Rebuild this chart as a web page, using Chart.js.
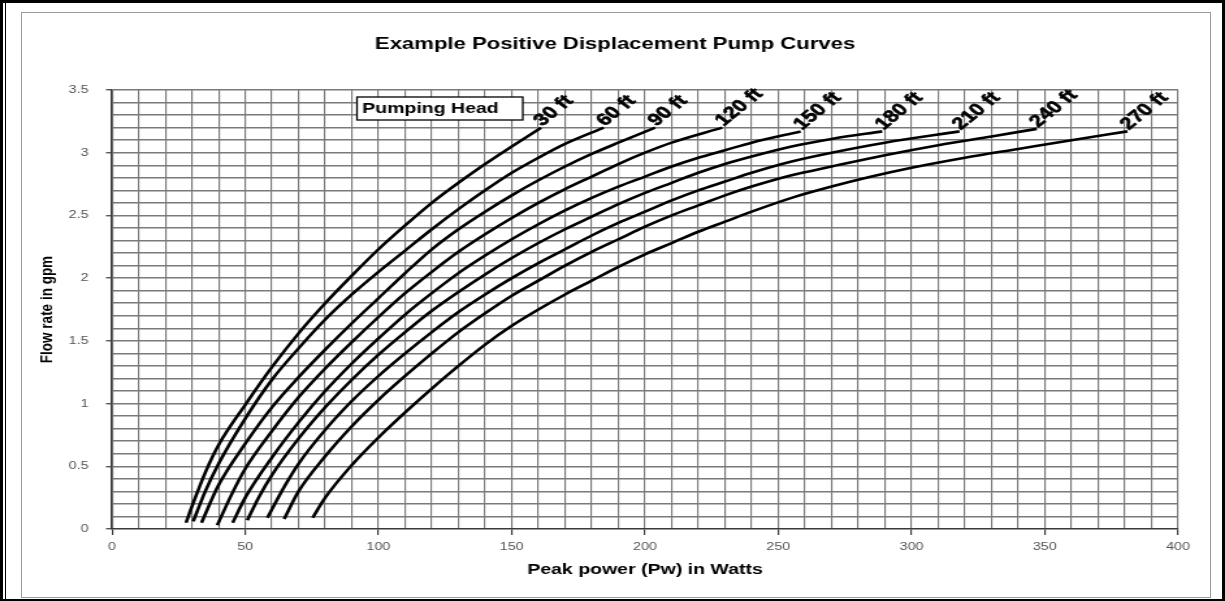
<!DOCTYPE html>
<html>
<head>
<meta charset="utf-8">
<script src="https://cdn.jsdelivr.net/npm/chart.js@4.4.1/dist/chart.umd.min.js"></script>
<style>
  html, body { margin: 0; padding: 0; background: #fff; }
  #page { position: relative; width: 1225px; height: 601px; overflow: hidden; background: #fff; }
  #outer { position: absolute; left: 0; top: 0; width: 1225px; height: 601px; box-sizing: border-box;
           border-top: 3px solid #000; border-left: 3px solid #000; border-right: 3px solid #000; border-bottom: 2px solid #000; }
  #leftline { position: absolute; left: 5px; top: 0; width: 1px; height: 601px; background: #000; }
  #inner { position: absolute; left: 21px; top: 12px; width: 1190px; height: 586px; box-sizing: border-box; border: 1.5px solid #9a9a9a; }
  #wrap { position: absolute; left: 0; top: 0; width: 942px; height: 601px; transform: scaleX(1.30042); transform-origin: 0 0; }
</style>
</head>
<body>
<div id="page">
  <div id="outer"></div>
  <div id="leftline"></div>
  <div id="inner"></div>
  <div id="wrap"><canvas id="c"></canvas></div>
</div>
<script>
// ---------- data ----------
const TITLE = 'Example Positive Displacement Pump Curves';
const X_TITLE = 'Peak power (Pw) in Watts';
const Y_TITLE = 'Flow rate in gpm';
const LEGEND_TITLE = 'Pumping Head';
const HEADS = ['30 ft', '60 ft', '90 ft', '120 ft', '150 ft', '180 ft', '210 ft', '240 ft', '270 ft'];

const P30 = [27.8, 30, 35, 40, 50, 60, 70, 80, 90, 100, 110, 120, 130, 140, 150, 161];
const F30 = [0.05, 0.18, 0.45, 0.67, 0.99, 1.29, 1.56, 1.8, 2.02, 2.23, 2.42, 2.6, 2.76, 2.91, 3.05, 3.2];

const P60 = [30.5, 35, 40, 50, 60, 70, 80, 90, 100, 110, 120, 130, 140, 150, 160, 170, 184.5];
const F60 = [0.06, 0.3, 0.52, 0.88, 1.19, 1.44, 1.67, 1.87, 2.05, 2.22, 2.39, 2.55, 2.7, 2.84, 2.96, 3.07, 3.2];

const P90 = [33.6, 40, 50, 60, 70, 80, 90, 100, 110, 120, 130, 140, 150, 160, 170, 180, 190, 203.8];
const F90 = [0.05, 0.35, 0.68, 0.97, 1.21, 1.43, 1.64, 1.84, 2.04, 2.23, 2.39, 2.53, 2.66, 2.78, 2.89, 2.99, 3.08, 3.2];

const P120 = [39.5, 45, 50, 60, 70, 80, 90, 100, 110, 120, 130, 140, 150, 160, 170, 180, 190, 200, 210, 229];
const F120 = [0.03, 0.28, 0.48, 0.78, 1.05, 1.28, 1.49, 1.69, 1.88, 2.05, 2.21, 2.35, 2.48, 2.6, 2.71, 2.81, 2.91, 3.0, 3.08, 3.2];

const P150 = [45.3, 50, 60, 70, 80, 90, 100, 110, 120, 130, 140, 150, 160, 170, 180, 190, 200, 210, 220, 230, 240, 258.4];
const F150 = [0.05, 0.25, 0.57, 0.85, 1.1, 1.32, 1.52, 1.71, 1.88, 2.04, 2.18, 2.31, 2.43, 2.54, 2.64, 2.73, 2.81, 2.89, 2.96, 3.02, 3.08, 3.17];

const P180 = [50.8, 55, 60, 70, 80, 90, 100, 110, 120, 130, 140, 150, 160, 170, 180, 190, 200, 210, 220, 230, 240, 255, 270, 289];
const F180 = [0.07, 0.25, 0.43, 0.72, 0.97, 1.19, 1.39, 1.57, 1.74, 1.89, 2.03, 2.16, 2.28, 2.39, 2.49, 2.59, 2.68, 2.76, 2.84, 2.91, 2.97, 3.05, 3.11, 3.17];

const P210 = [58.3, 65, 70, 80, 90, 100, 110, 120, 130, 140, 150, 160, 170, 180, 190, 200, 210, 220, 230, 240, 255, 270, 290, 318];
const F210 = [0.09, 0.35, 0.52, 0.79, 1.02, 1.22, 1.4, 1.57, 1.73, 1.87, 2.0, 2.12, 2.23, 2.34, 2.44, 2.53, 2.62, 2.7, 2.77, 2.84, 2.93, 3.0, 3.08, 3.17];

const P240 = [64.6, 70, 80, 90, 100, 110, 120, 130, 140, 150, 160, 170, 180, 190, 200, 210, 220, 230, 240, 255, 270, 290, 310, 330, 347];
const F240 = [0.08, 0.3, 0.58, 0.82, 1.03, 1.22, 1.4, 1.57, 1.72, 1.86, 1.98, 2.1, 2.21, 2.31, 2.41, 2.5, 2.58, 2.66, 2.73, 2.82, 2.89, 2.98, 3.06, 3.13, 3.19];

const P270 = [75.3, 80, 90, 100, 110, 120, 130, 140, 150, 160, 170, 180, 190, 200, 210, 220, 230, 240, 255, 270, 285, 300, 320, 340, 360, 381];
const F270 = [0.09, 0.25, 0.51, 0.73, 0.93, 1.12, 1.3, 1.47, 1.62, 1.75, 1.87, 1.98, 2.09, 2.19, 2.28, 2.37, 2.45, 2.53, 2.64, 2.73, 2.81, 2.88, 2.96, 3.03, 3.1, 3.17];

const X_MIN = 0, X_MAX = 400, X_STEP = 10, X_LABEL_STEP = 50;
const Y_MIN = 0, Y_MAX = 3.5, Y_STEP = 0.1, Y_LABEL_STEP = 0.5;

// ---------- build ----------
const SERIES = [[P30, F30], [P60, F60], [P90, F90], [P120, F120], [P150, F150],
                [P180, F180], [P210, F210], [P240, F240], [P270, F270]];

const datasets = SERIES.map(([p, f], i) => ({
  label: HEADS[i],
  data: p.map((x, k) => ({ x: x, y: f[k] })),
  showLine: true,
  borderColor: '#000',
  backgroundColor: '#000',
  borderWidth: 2.6,
  pointRadius: 0,
  cubicInterpolationMode: 'monotone',
  fill: false
}));

const FONT = '"Liberation Sans", Arial, sans-serif';
const isMult = (v, step) => Math.abs(v / step - Math.round(v / step)) < 1e-6;

const decorPlugin = {
  id: 'decor',
  afterDatasetsDraw(chart) {
    const ctx = chart.ctx;
    ctx.save();
    ctx.fillStyle = '#000';
    ctx.strokeStyle = '#000';
    ctx.lineWidth = 0.6;
    ctx.font = 'bold 17px ' + FONT;
    ctx.textAlign = 'left';
    ctx.textBaseline = 'alphabetic';
    chart.data.datasets.forEach((ds, i) => {
      const meta = chart.getDatasetMeta(i);
      const pt = meta.data[meta.data.length - 1];
      ctx.save();
      ctx.translate(pt.x + 1, pt.y - 1);
      ctx.rotate(-46 * Math.PI / 180);
      ctx.fillText(ds.label, 0, 0);
      ctx.strokeText(ds.label, 0, 0);
      ctx.restore();
    });
    ctx.restore();
  },
  afterDraw(chart) {
    const ctx = chart.ctx;
    ctx.save();
    ctx.fillStyle = '#000';
    ctx.font = 'bold 17px ' + FONT;
    ctx.textAlign = 'center';
    ctx.textBaseline = 'middle';
    ctx.fillText(TITLE, 473, 44);
    const bx = 274.5, by = 97, bw = 127.5, bh = 23;
    ctx.fillStyle = '#fff';
    ctx.fillRect(bx, by, bw, bh);
    ctx.strokeStyle = '#000';
    ctx.lineWidth = 1.3;
    ctx.strokeRect(bx, by, bw, bh);
    ctx.fillStyle = '#000';
    ctx.font = 'bold 15px ' + FONT;
    ctx.textAlign = 'left';
    ctx.textBaseline = 'middle';
    ctx.fillText(LEGEND_TITLE, bx + 4, by + bh / 2 + 0.5);
    ctx.restore();
  }
};

new Chart(document.getElementById('c'), {
  type: 'scatter',
  data: { datasets: datasets },
  options: {
    responsive: true,
    maintainAspectRatio: false,
    animation: false,
    events: [],
    layout: { padding: { top: 90, left: 16, right: 36.1, bottom: 4 } },
    plugins: {
      legend: { display: false },
      tooltip: { enabled: false },
      title: { display: false }
    },
    scales: {
      x: {
        type: 'linear',
        min: X_MIN, max: X_MAX,
        afterFit(s) { s.height = 68; },
        border: { display: true, color: '#3a3a3a', width: 1.3 },
        grid: {
          color: '#7a7a7a',
          lineWidth: 1.15,
          drawTicks: true,
          tickLength: 6,
          tickWidth: 1.2,
          tickColor: (c) => (c.tick && isMult(c.tick.value, X_LABEL_STEP)) ? '#3a3a3a' : 'rgba(0,0,0,0)'
        },
        ticks: {
          stepSize: X_STEP,
          autoSkip: false,
          maxRotation: 0,
          padding: 5,
          color: '#555',
          font: { family: FONT, size: 11 },
          callback: (v) => isMult(v, X_LABEL_STEP) ? String(Math.round(v)) : ''
        },
        title: {
          display: true,
          text: X_TITLE,
          color: '#000',
          font: { family: FONT, size: 15, weight: 'bold' },
          padding: { top: 0, bottom: 18 }
        }
      },
      y: {
        type: 'linear',
        min: Y_MIN, max: Y_MAX,
        afterFit(s) { s.width = 70.1; },
        border: { display: true, color: '#3a3a3a', width: 1.3 },
        grid: {
          color: '#7a7a7a',
          lineWidth: 1.5,
          drawTicks: true,
          tickLength: 4.6,
          tickWidth: 1.2,
          tickColor: (c) => (c.tick && isMult(c.tick.value, Y_LABEL_STEP)) ? '#3a3a3a' : 'rgba(0,0,0,0)'
        },
        ticks: {
          stepSize: Y_STEP,
          autoSkip: false,
          padding: 13.4,
          color: '#555',
          font: { family: FONT, size: 11 },
          callback: (v) => isMult(v, Y_LABEL_STEP) ? String(Math.round(v * 10) / 10) : ''
        },
        title: {
          display: true,
          text: Y_TITLE,
          color: '#000',
          font: { family: FONT, size: 13.5, weight: 'bold' },
          padding: { top: 12.5, bottom: 0 }
        }
      }
    }
  },
  plugins: [decorPlugin]
});
</script>
</body>
</html>
